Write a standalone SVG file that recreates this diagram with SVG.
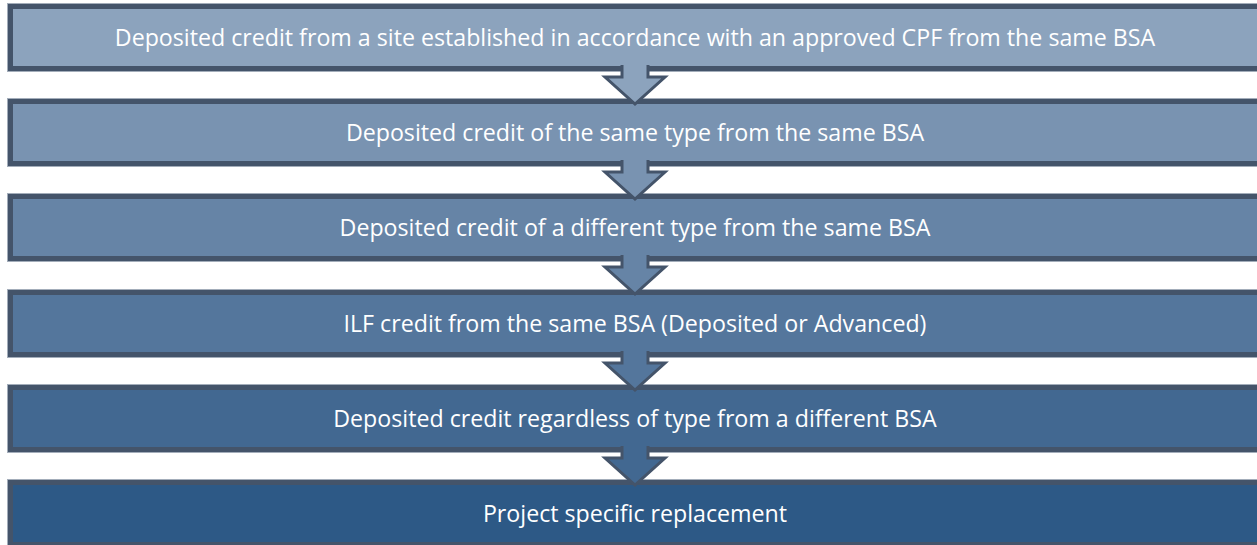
<svg xmlns="http://www.w3.org/2000/svg" width="1257" height="545" viewBox="0 0 1257 545">
<style>
.box{stroke:#44546A;stroke-width:5}
.halo{fill:none;stroke:#A3ADBA;stroke-width:1}
.lbl{font-family:"Open Sans","DejaVu Sans",sans-serif;font-size:23.2px;fill:#FFFFFF;text-anchor:middle}
.arr{stroke:#44546A;stroke-width:3;stroke-linejoin:miter}
</style>
<rect width="1257" height="545" fill="#FFFFFF"/>
<g id="node1">
<rect class="halo" x="7.5" y="3.5" width="1256" height="68"/>
<rect class="box" x="10.5" y="6.5" width="1249" height="62" fill="#8CA3BD"/>
<text class="lbl" x="635" y="45.5">Deposited credit from a site established in accordance with an approved CPF from the same BSA</text>
</g>
<g id="node2">
<rect class="halo" x="7.5" y="98.5" width="1256" height="68"/>
<rect class="box" x="10.5" y="101.5" width="1249" height="62" fill="#7993B1"/>
<text class="lbl" x="635" y="140.5">Deposited credit of the same type from the same BSA</text>
</g>
<g id="node3">
<rect class="halo" x="7.5" y="193.5" width="1256" height="68"/>
<rect class="box" x="10.5" y="196.5" width="1249" height="62" fill="#6684A6"/>
<text class="lbl" x="635" y="235.5">Deposited credit of a different type from the same BSA</text>
</g>
<g id="node4">
<rect class="halo" x="7.5" y="289.5" width="1256" height="68"/>
<rect class="box" x="10.5" y="292.5" width="1249" height="62" fill="#54769C"/>
<text class="lbl" x="635" y="331.5">ILF credit from the same BSA (Deposited or Advanced)</text>
</g>
<g id="node5">
<rect class="halo" x="7.5" y="384.5" width="1256" height="68"/>
<rect class="box" x="10.5" y="387.5" width="1249" height="62" fill="#426891"/>
<text class="lbl" x="635" y="426.5">Deposited credit regardless of type from a different BSA</text>
</g>
<g id="node6">
<rect class="halo" x="7.5" y="479.5" width="1256" height="68"/>
<rect class="box" x="10.5" y="482.5" width="1249" height="62" fill="#2D5986"/>
<text class="lbl" x="635" y="521.5">Project specific replacement</text>
</g>
<g id="connectors">
<path class="arr" fill="#8CA3BD" d="M622 65 L622 77 L605 77 L635 104 L665 77 L648 77 L648 65"/>
<path class="arr" fill="#7993B1" d="M622 160 L622 172 L605 172 L635 199 L665 172 L648 172 L648 160"/>
<path class="arr" fill="#6684A6" d="M622 255 L622 267 L605 267 L635 294 L665 267 L648 267 L648 255"/>
<path class="arr" fill="#54769C" d="M622 351 L622 363 L605 363 L635 390 L665 363 L648 363 L648 351"/>
<path class="arr" fill="#426891" d="M622 446 L622 458 L605 458 L635 485 L665 458 L648 458 L648 446"/>
</g>
</svg>
